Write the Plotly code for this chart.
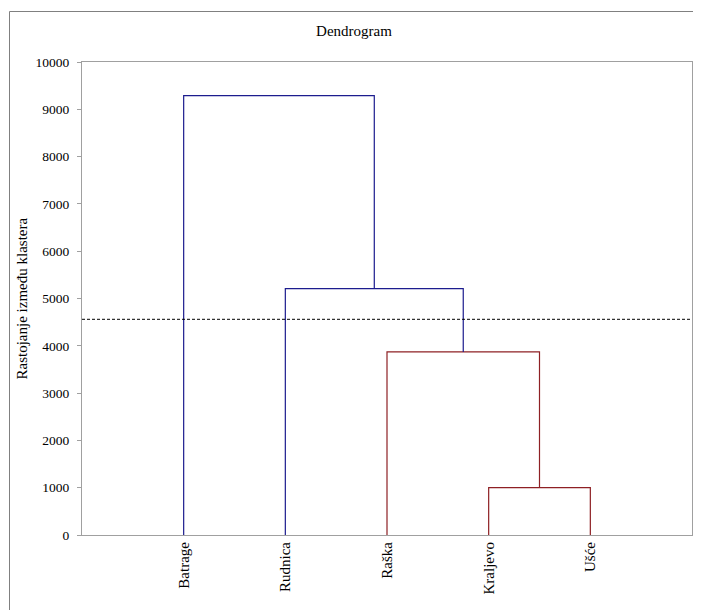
import plotly.graph_objects as go

# ---- data ----
leaf_labels = ["Batrage", "Rudnica", "Raška", "Kraljevo", "Ušće"]
# linkage (scipy style): node ids 0-4 are leaves, 5+ are merged clusters
merge_a = [3, 2, 1, 0]
merge_b = [4, 5, 6, 7]
merge_heights = [1000, 3870, 5210, 9290]
cut_height = 4560
y_ticks = [0, 1000, 2000, 3000, 4000, 5000, 6000, 7000, 8000, 9000, 10000]

BLUE = "#1c1c8e"
RED = "#8e2024"
FONT = "Liberation Serif"

# node positions
node_x = {i: i + 1 for i in range(len(leaf_labels))}
node_h = {i: 0 for i in range(len(leaf_labels))}

fig = go.Figure()
for k, (a, b, h) in enumerate(zip(merge_a, merge_b, merge_heights)):
    nid = len(leaf_labels) + k
    xa, xb = node_x[a], node_x[b]
    color = RED if h < cut_height else BLUE
    fig.add_trace(go.Scatter(
        x=[xa, xa, xb, xb], y=[node_h[a], h, h, node_h[b]],
        mode="lines", line=dict(color=color, width=1.2),
        hoverinfo="skip", showlegend=False))
    node_x[nid] = (xa + xb) / 2
    node_h[nid] = h

# page has 8px body margin -> work in page pixels, convert
OFF = 8
W, H = 701 - OFF, 610 - OFF
PL, PR, PT, PB = 82, 692, 62, 535  # plot area in page pixels
L, T = PL - OFF, PT - OFF
R, B = W - (PR - OFF), H - (PB - OFF)
pw, ph = PR - PL, PB - PT
def px(x):
    return (x - PL) / pw
def py(y):
    return (PB - y) / ph

fig.add_shape(type="line", xref="paper", yref="y", x0=0, x1=1,
              y0=cut_height, y1=cut_height,
              line=dict(color="black", width=1, dash="3px,2px"))
# outer frame
fig.add_shape(type="rect", xref="paper", yref="paper",
              x0=px(9.5), x1=px(740), y0=py(650), y1=py(11.5),
              line=dict(color="#808080", width=1), layer="below")

fig.add_annotation(text="Rastojanje između klastera", xref="paper", yref="paper",
                   x=px(21), y=0.5, xanchor="center", yanchor="middle",
                   textangle=-90, showarrow=False,
                   font=dict(family=FONT, size=15, color="black"))

fig.update_layout(
    width=W, height=H,
    margin=dict(l=L, r=R, t=T, b=B),
    paper_bgcolor="white", plot_bgcolor="white",
    title=dict(text="Dendrogram", x=(354 - OFF) / W, xanchor="center",
               y=1 - (31 - OFF) / H, yanchor="middle", yref="container",
               font=dict(family=FONT, size=15, color="black")),
    font=dict(family=FONT, size=13, color="black"),
    xaxis=dict(range=[0, len(leaf_labels) + 1],
               tickvals=[node_x[i] for i in range(len(leaf_labels))],
               ticktext=leaf_labels, tickangle=-90, ticks="",
               showgrid=False, zeroline=False, showline=True,
               linecolor="#a0a0a0", linewidth=1, mirror=True,
               tickfont=dict(family=FONT, size=15, color="black")),
    yaxis=dict(range=[0, 10000], tickvals=y_ticks,
               ticktext=[str(v) for v in y_ticks],
               ticks="outside", ticklen=4, tickcolor="#a0a0a0",
               ticklabelstandoff=5,
               showgrid=False, zeroline=False, showline=True,
               linecolor="#a0a0a0", linewidth=1, mirror=True,
               tickfont=dict(family=FONT, size=13.5, color="black")),
)

fig.write_html("out.html")
